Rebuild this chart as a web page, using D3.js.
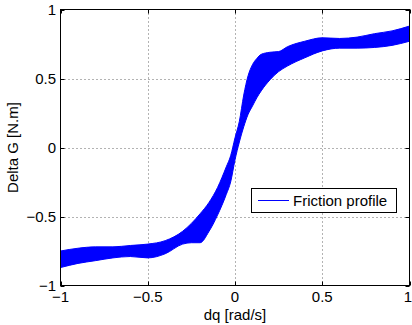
<!DOCTYPE html>
<html>
<head>
<meta charset="utf-8">
<script src="https://cdn.jsdelivr.net/npm/d3@7"></script>
<style>
  body { margin: 0; background: #fff; }
  svg { display: block; font-family: "Liberation Sans", Arial, sans-serif; }
</style>
</head>
<body>
<div id="chart"></div>
<script>
// friction band: upper and lower envelope of the curves
const dqValues = [-1, -0.9, -0.8, -0.7, -0.6, -0.5, -0.4, -0.3, -0.25, -0.2, -0.15, -0.1, -0.05, -0.025,
    0, 0.025, 0.05, 0.075, 0.1, 0.125, 0.15, 0.2, 0.25, 0.3, 0.4, 0.5, 0.6, 0.7, 0.8, 0.9, 1];
const upperG = [-0.75, -0.73, -0.72, -0.72, -0.71, -0.70, -0.675, -0.607, -0.55, -0.48, -0.40, -0.29, -0.14, -0.06,
    0.07, 0.19, 0.38, 0.52, 0.60, 0.645, 0.675, 0.69, 0.695, 0.73, 0.77, 0.795, 0.79, 0.80, 0.825, 0.845, 0.88];
const lowerG = [-0.87, -0.84, -0.82, -0.80, -0.79, -0.80, -0.77, -0.70, -0.69, -0.69, -0.61, -0.49, -0.34, -0.25,
    -0.09, 0.04, 0.15, 0.24, 0.30, 0.36, 0.41, 0.49, 0.55, 0.59, 0.65, 0.70, 0.72, 0.72, 0.725, 0.74, 0.77];

const xTicks = [-1, -0.5, 0, 0.5, 1];
const yTicks = [-1, -0.5, 0, 0.5, 1];
const legendLabel = "Friction profile";

const width = 412, height = 325;
const axLeft = 60.5, axRight = 409.5, axTop = 9.5, axBottom = 285.5;

const svg = d3.select("#chart")
    .append("svg")
    .attr("width", width)
    .attr("height", height)
    .attr("font-size", 15);

const x = d3.scaleLinear().domain([-1, 1]).range([axLeft, axRight]);
const y = d3.scaleLinear().domain([-1, 1]).range([axBottom, axTop]);

const fmt = v => (v < 0 ? "\u2212" : "") + Math.abs(v);

// dotted grid
const grid = svg.append("g")
    .attr("stroke", "#666")
    .attr("stroke-width", 1)
    .attr("stroke-dasharray", "1,3");
grid.selectAll(".gx")
    .data(xTicks.slice(1, -1))
    .enter().append("line")
    .attr("x1", d => Math.round(x(d)) + 0.5).attr("x2", d => Math.round(x(d)) + 0.5)
    .attr("y1", axTop).attr("y2", axBottom);
grid.selectAll(".gy")
    .data(yTicks.slice(1, -1))
    .enter().append("line")
    .attr("y1", d => Math.round(y(d)) + 0.5).attr("y2", d => Math.round(y(d)) + 0.5)
    .attr("x1", axLeft).attr("x2", axRight);

// band
const band = dqValues.map((d, i) => ({dq: d, hi: upperG[i], lo: lowerG[i]}));

const area = d3.area()
    .curve(d3.curveMonotoneX)
    .x(d => x(d.dq))
    .y0(d => y(d.lo))
    .y1(d => y(d.hi));

const edge = key => d3.line()
    .curve(d3.curveMonotoneX)
    .x(d => x(d.dq))
    .y(d => y(d[key]));

const plot = svg.append("g");
plot.append("path")
    .datum(band)
    .attr("fill", "#0000ff")
    .attr("d", area);
["hi", "lo"].forEach(k => {
    plot.append("path")
        .datum(band)
        .attr("fill", "none")
        .attr("stroke", "#0000ff")
        .attr("stroke-width", 1)
        .attr("d", edge(k));
});

// axes box and inward ticks
const axes = svg.append("g").attr("stroke", "#000").attr("stroke-width", 1);
axes.append("rect")
    .attr("x", axLeft).attr("y", axTop)
    .attr("width", axRight - axLeft).attr("height", axBottom - axTop)
    .attr("fill", "none");
xTicks.forEach(t => {
    const px = Math.round(x(t)) + 0.5;
    axes.append("line").attr("x1", px).attr("x2", px).attr("y1", axBottom).attr("y2", axBottom - 4);
    axes.append("line").attr("x1", px).attr("x2", px).attr("y1", axTop).attr("y2", axTop + 4);
});
yTicks.forEach(t => {
    const py = Math.round(y(t)) + 0.5;
    axes.append("line").attr("y1", py).attr("y2", py).attr("x1", axLeft).attr("x2", axLeft + 4);
    axes.append("line").attr("y1", py).attr("y2", py).attr("x1", axRight).attr("x2", axRight - 4);
});

// tick labels (last one pulled inside the window edge)
svg.append("g").selectAll("text")
    .data(xTicks)
    .enter().append("text")
    .attr("x", (d, i) => i === xTicks.length - 1 ? width : x(d))
    .attr("y", 302)
    .attr("text-anchor", (d, i) => i === xTicks.length - 1 ? "end" : "middle")
    .text(fmt);
svg.append("g").selectAll("text")
    .data(yTicks)
    .enter().append("text")
    .attr("x", 56)
    .attr("y", d => y(d))
    .attr("dy", "0.35em")
    .attr("text-anchor", "end")
    .text(fmt);

// axis labels
svg.append("text")
    .attr("x", x(0))
    .attr("y", 320)
    .attr("text-anchor", "middle")
    .text("dq [rad/s]");
svg.append("text")
    .attr("transform", "translate(18," + y(0) + ")rotate(-90)")
    .attr("text-anchor", "middle")
    .text("Delta G [N.m]");

// legend
const legend = svg.append("g");
legend.append("rect")
    .attr("x", 251.5).attr("y", 188.5)
    .attr("width", 145).attr("height", 24)
    .attr("fill", "#fff")
    .attr("stroke", "#000");
legend.append("line")
    .attr("x1", 258).attr("x2", 289)
    .attr("y1", 200.5).attr("y2", 200.5)
    .attr("stroke", "#0000ff");
legend.append("text")
    .attr("x", 293)
    .attr("y", 206)
    .text(legendLabel);
</script>
</body>
</html>
